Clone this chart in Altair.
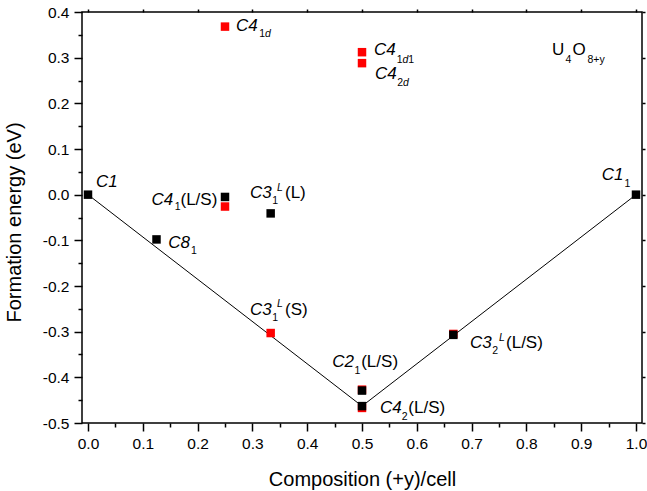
import altair as alt
import pandas as pd

# ---------------- data ----------------
black_x = [0.0, 0.125, 0.25, 1/3, 0.5, 0.5, 2/3, 1.0]
black_y = [0.0, -0.098, -0.005, -0.041, -0.429, -0.463, -0.307, 0.0]
red_x = [0.25, 0.25, 1/3, 0.5, 0.5, 0.5, 0.5, 2/3]
red_y = [0.368, -0.026, -0.303, 0.312, 0.288, -0.427, -0.467, -0.305]
hull_x = [0.0, 0.5, 1.0]
hull_y = [0.0, -0.463, 0.0]

x_major = [0.0, 0.1, 0.2, 0.3, 0.4, 0.5, 0.6, 0.7, 0.8, 0.9, 1.0]
x_minor = [0.05, 0.15, 0.25, 0.35, 0.45, 0.55, 0.65, 0.75, 0.85, 0.95]
y_major = [-0.5, -0.4, -0.3, -0.2, -0.1, 0.0, 0.1, 0.2, 0.3, 0.4]
y_minor = [-0.45, -0.35, -0.25, -0.15, -0.05, 0.05, 0.15, 0.25, 0.35]

x_title = "Composition (+y)/cell"
y_title = "Formation energy (eV)"

# formula annotation position (data coords)
formula_x = 0.8467
formula_y = 0.306

FONT = "Liberation Sans"
MAIN = 17
SUB = 10.5

xscale = alt.Scale(domain=[-0.01095, 1.01095], nice=False, zero=False)
yscale = alt.Scale(domain=[-0.5, 0.4], nice=False, zero=False)

lab_expr = "replace(format(datum.value, '.1f'), '\u2212', '-')"


def axis_major(orient, values, title, **kw):
    return alt.Axis(orient=orient, values=values, labelExpr=lab_expr,
                    tickSize=8, tickWidth=1.5, tickColor="black",
                    labelFont=FONT, labelFontSize=15.5, labelColor="black",
                    labelPadding=5, domain=False, grid=False,
                    title=title, titleFont=FONT, titleFontSize=20,
                    titleFontWeight="normal", titleColor="black", **kw)


def axis_plain(orient, values, size):
    return alt.Axis(orient=orient, values=values, labels=False,
                    tickSize=size, tickWidth=1.5, tickColor="black",
                    domain=False, grid=False, title="")


hull_df = pd.DataFrame({"x": hull_x, "y": hull_y})
black_df = pd.DataFrame({"x": black_x, "y": black_y})
red_df = pd.DataFrame({"x": red_x, "y": red_y})

layers = []

# hull line carrying the main axes
layers.append(
    alt.Chart(hull_df).mark_line(color="black", strokeWidth=1).encode(
        x=alt.X("x:Q", scale=xscale,
                axis=axis_major("bottom", x_major, x_title,
                                titleY=62, titleBaseline="alphabetic")),
        y=alt.Y("y:Q", scale=yscale,
                axis=axis_major("left", y_major, y_title,
                                titleX=-62, titleY=210, titleAngle=-90,
                                titleBaseline="alphabetic", titleAlign="center")),
    )
)
# minor ticks
layers.append(
    alt.Chart(hull_df).mark_line(opacity=0).encode(
        x=alt.X("x:Q", scale=xscale, axis=axis_plain("bottom", x_minor, 4)),
        y=alt.Y("y:Q", scale=yscale, axis=axis_plain("left", y_minor, 4)),
    )
)
# top / right ticks
layers.append(
    alt.Chart(hull_df).mark_line(opacity=0).encode(
        x=alt.X("x:Q", scale=xscale, axis=axis_plain("top", x_major, 3)),
        y=alt.Y("y:Q", scale=yscale, axis=axis_plain("right", y_major, 3)),
    )
)
# points
layers.append(
    alt.Chart(red_df).mark_point(shape="square", filled=True, size=72,
                                 color="#ff0000", opacity=1).encode(
        x=alt.X("x:Q", scale=xscale, axis=None),
        y=alt.Y("y:Q", scale=yscale, axis=None),
    )
)
layers.append(
    alt.Chart(black_df).mark_point(shape="square", filled=True, size=72,
                                   color="#000000", opacity=1).encode(
        x=alt.X("x:Q", scale=xscale, axis=None),
        y=alt.Y("y:Q", scale=yscale, axis=None),
    )
)


def piece(ax, ay, text, dx, dy, size, italic):
    df = pd.DataFrame({"x": [ax], "y": [ay], "t": [text]})
    return alt.Chart(df).mark_text(
        align="left", baseline="alphabetic", dx=dx, dy=dy,
        font=FONT, fontSize=size, fontStyle="italic" if italic else "normal",
        color="black",
    ).encode(
        x=alt.X("x:Q", scale=xscale, axis=None),
        y=alt.Y("y:Q", scale=yscale, axis=None),
        text="t:N",
    )


# label pieces: (anchor coords, [(text, dx, dy, size, italic)])
labels = [
    ((black_x[0], black_y[0]), [("C1", 8, -7.4, MAIN, True)]),
    ((red_x[0], red_y[0]), [("C4", 11, 4, MAIN, True),
                            ("1", 34.3, 10.7, SUB, False),
                            ("d", 40.1, 10.7, SUB, True)]),
    ((red_x[3], red_y[3]), [("C4", 12, 2.8, MAIN, True),
                            ("1", 34.7, 10.5, SUB, False),
                            ("d", 40.5, 10.5, SUB, True),
                            ("1", 46.3, 10.5, SUB, False)]),
    ((red_x[4], red_y[4]), [("C4", 13, 16.1, MAIN, True),
                            ("2", 35.3, 22.8, SUB, False),
                            ("d", 41.1, 22.8, SUB, True)]),
    ((black_x[2], black_y[2]), [("C4", -73.5, 8.5, MAIN, True),
                                ("1", -50.2, 13, SUB, False),
                                ("(L/S)", -44.5, 8.5, MAIN, False)]),
    ((black_x[3], black_y[3]), [("C3", -20.7, -15.1, MAIN, True),
                                ("1", 1.6, -9.1, SUB, False),
                                ("L", 6.3, -22.6, SUB, True),
                                ("(L)", 14.3, -15.1, MAIN, False)]),
    ((black_x[1], black_y[1]), [("C8", 11.8, 8.8, MAIN, True),
                                ("1", 34.5, 15.0, SUB, False)]),
    ((red_x[2], red_y[2]), [("C3", -20.7, -18.1, MAIN, True),
                            ("1", 1.6, -12.1, SUB, False),
                            ("L", 6.3, -25.6, SUB, True),
                            ("(S)", 14.3, -18.1, MAIN, False)]),
    ((black_x[4], black_y[4]), [("C2", -29.7, -23.3, MAIN, True),
                                ("1", -7.5, -16.6, SUB, False),
                                ("(L/S)", -0.8, -23.3, MAIN, False)]),
    ((black_x[5], black_y[5]), [("C4", 18, 7.2, MAIN, True),
                                ("2", 39.7, 14, SUB, False),
                                ("(L/S)", 46.3, 7.2, MAIN, False)]),
    ((black_x[6], black_y[6]), [("C3", 16.7, 13.4, MAIN, True),
                                ("2", 39, 19, SUB, False),
                                ("L", 45.7, 5.8, SUB, True),
                                ("(L/S)", 52.7, 13.4, MAIN, False)]),
    ((black_x[7], black_y[7]), [("C1", -34.3, -14.7, MAIN, True),
                                ("1", -11.5, -8, SUB, False)]),
    ((formula_x, formula_y), [("U", 0, 0, MAIN, False),
                              ("4", 13.5, 8, SUB, False),
                              ("O", 20.5, 0, MAIN, False),
                              ("8+y", 35.5, 8, SUB, False)]),
]

for (ax, ay), pieces in labels:
    for text, dx, dy, size, italic in pieces:
        layers.append(piece(ax, ay, text, dx, dy, size, italic))

chart = alt.layer(*layers).resolve_axis(
    x="independent", y="independent"
).properties(
    width=560, height=411,
    padding={"left": 82, "top": 12, "right": 5, "bottom": 68},
    autosize=alt.AutoSizeParams(type="none"),
    background="white",
).configure_view(stroke="black", strokeWidth=1.5)

chart.save("out.html", embed_options={"renderer": "svg", "actions": False})
